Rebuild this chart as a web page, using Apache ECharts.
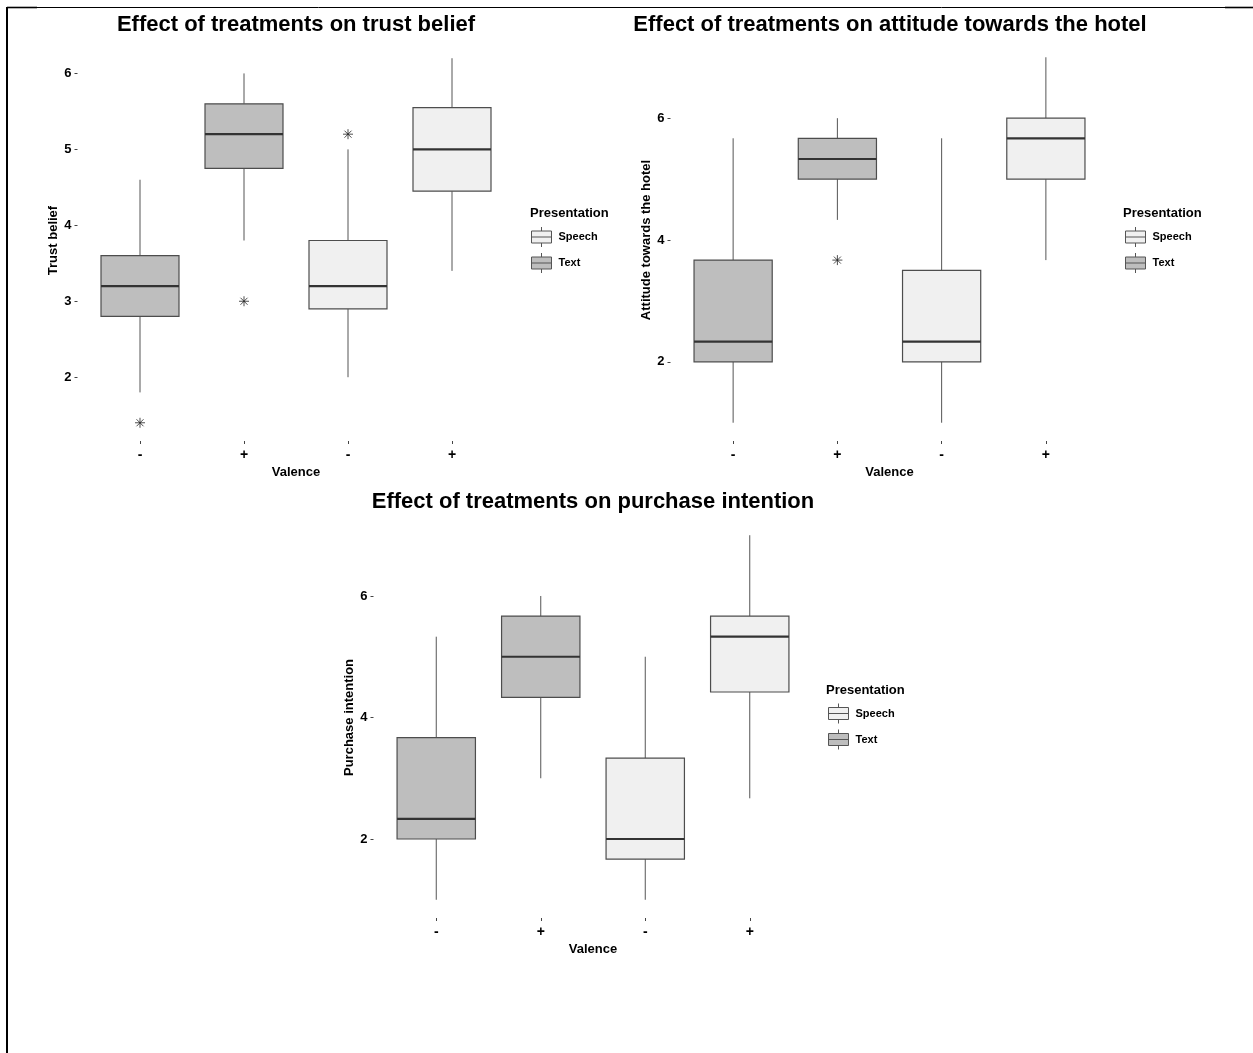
<!DOCTYPE html>
<html><head><meta charset="utf-8">
<script src="https://cdn.jsdelivr.net/npm/echarts@6/dist/echarts.min.js"></script>
<style>html,body{margin:0;padding:0;background:#fff}#c{width:1253px;height:1053px}</style>
</head><body><div id="c"></div>
<script>
// ---- data ----
const valence = ['-', '+', '-', '+'];
const presentation = ['Text', 'Text', 'Speech', 'Speech'];
const legendNames = ['Speech', 'Text'];
// each box: [lower whisker, Q1, median, Q3, upper whisker]
const trustBox = [[1.8, 2.8, 3.2, 3.6, 4.6], [3.8, 4.75, 5.2, 5.6, 6.0], [2.0, 2.9, 3.2, 3.8, 5.0], [3.4, 4.45, 5.0, 5.55, 6.2]];
const trustOutliers = [[0, 1.4], [1, 3.0], [2, 5.2]];
const attitudeBox = [[1.0, 2.0, 2.33, 3.67, 5.67], [4.33, 5.0, 5.33, 5.67, 6.0], [1.0, 2.0, 2.33, 3.5, 5.67], [3.67, 5.0, 5.67, 6.0, 7.0]];
const attitudeOutliers = [[1, 3.67]];
const purchaseBox = [[1.0, 2.0, 2.33, 3.67, 5.33], [3.0, 4.33, 5.0, 5.67, 6.0], [1.0, 1.67, 2.0, 3.33, 5.0], [2.67, 4.42, 5.33, 5.67, 7.0]];
const purchaseOutliers = [];
const trustTicks = [2, 3, 4, 5, 6];
const attitudeTicks = [2, 4, 6];
const purchaseTicks = [2, 4, 6];
const titles = ['Effect of treatments on trust belief', 'Effect of treatments on attitude towards the hotel', 'Effect of treatments on purchase intention'];
const yNames = ['Trust belief', 'Attitude towards the hotel', 'Purchase intention'];
const xName = 'Valence';
const legendTitle = 'Presentation';

// ---- styling ----
const FONT = '"Liberation Sans", Arial, sans-serif';
const fills = { Text: '#bebebe', Speech: '#f0f0f0' };

function renderBox(params, api) {
  const x = api.value(0);
  const lo = api.coord([x, api.value(1)]);
  const q1 = api.coord([x, api.value(2)]);
  const md = api.coord([x, api.value(3)]);
  const q3 = api.coord([x, api.value(4)]);
  const hi = api.coord([x, api.value(5)]);
  const bw = api.size([1, 0])[0] * 0.75;
  const cx = lo[0];
  const l = cx - bw / 2;
  const fill = api.visual('color');
  return {
    type: 'group',
    children: [
      { type: 'line', shape: { x1: cx, y1: hi[1], x2: cx, y2: q3[1] }, style: { stroke: '#555', lineWidth: 1 } },
      { type: 'line', shape: { x1: cx, y1: q1[1], x2: cx, y2: lo[1] }, style: { stroke: '#555', lineWidth: 1 } },
      { type: 'rect', shape: { x: l, y: q3[1], width: bw, height: q1[1] - q3[1] }, style: { fill: fill, stroke: '#4d4d4d', lineWidth: 1.2 } },
      { type: 'line', shape: { x1: l, y1: md[1], x2: l + bw, y2: md[1] }, style: { stroke: '#333', lineWidth: 2.2 } }
    ]
  };
}

const grids = [
  { left: 88, top: 40, width: 416, height: 401 },
  { left: 681, top: 39, width: 417, height: 402 },
  { left: 384, top: 517, width: 418, height: 401 }
];
const yRanges = [[1.16, 6.44], [0.7, 7.3], [0.7, 7.3]];
const yTickSets = [trustTicks, attitudeTicks, purchaseTicks];
const boxes = [trustBox, attitudeBox, purchaseBox];
const outliers = [trustOutliers, attitudeOutliers, purchaseOutliers];
const legendPos = [[531, 226.5], [1125, 226.5], [828, 703]];
const legendTitlePos = [[530, 213], [1123, 213], [826, 690]];
const titlePos = [[296, 25], [890, 25], [593, 501.5]];

const xAxes = [], yAxes = [], series = [], legends = [], graphics = [];
const iconPath = 'path://M10 0 L10 4 M0 4 L20 4 L20 16 L0 16 Z M0 10 L20 10 M10 16 L10 20';
const asterisk = 'path://M5 0 L5 10 M0 5 L10 5 M1.5 1.5 L8.5 8.5 M1.5 8.5 L8.5 1.5';

for (let g = 0; g < 3; g++) {
  xAxes.push({
    type: 'category', gridIndex: g, data: valence, boundaryGap: true,
    axisLine: { show: false },
    axisTick: { show: true, alignWithLabel: true, length: 3, lineStyle: { color: '#444' } },
    axisLabel: { margin: 7, color: '#000', fontWeight: 'bold', fontSize: 14, fontFamily: FONT },
    splitLine: { show: false },
    name: xName, nameLocation: 'middle', nameGap: 25,
    nameTextStyle: { color: '#000', fontWeight: 'bold', fontSize: 13, fontFamily: FONT }
  });
  yAxes.push({
    type: 'value', gridIndex: g, min: yRanges[g][0], max: yRanges[g][1], offset: 10.5,
    axisLine: { show: false },
    axisTick: { show: true, length: 3, customValues: yTickSets[g], lineStyle: { color: '#444' } },
    axisLabel: { margin: 6, padding: [4, 0, 0, 0], customValues: yTickSets[g], color: '#000', fontWeight: 'bold', fontSize: 13, fontFamily: FONT },
    splitLine: { show: false },
    name: yNames[g], nameLocation: 'middle', nameGap: 17, nameRotate: 90,
    nameTextStyle: { color: '#000', fontWeight: 'bold', fontSize: 13, fontFamily: FONT }
  });
  ['Text', 'Speech'].forEach(function (p) {
    const data = [];
    boxes[g].forEach(function (b, i) { if (presentation[i] === p) data.push([i].concat(b)); });
    series.push({
      type: 'custom', name: p, xAxisIndex: g, yAxisIndex: g,
      itemStyle: { color: fills[p], borderColor: '#4d4d4d' },
      encode: { x: 0, y: [1, 2, 3, 4, 5] },
      renderItem: renderBox, data: data
    });
  });
  series.push({
    type: 'scatter', name: 'outliers' + g, xAxisIndex: g, yAxisIndex: g,
    symbol: asterisk, symbolSize: 10, silent: true, z: 5,
    itemStyle: { color: 'transparent', borderColor: '#222', borderWidth: 1 },
    data: outliers[g]
  });
  legends.push({
    orient: 'vertical', left: legendPos[g][0], top: legendPos[g][1], padding: 0,
    itemWidth: 20, itemHeight: 20, itemGap: 5, selectedMode: false,
    textStyle: { color: '#000', fontWeight: 'bold', fontSize: 11, fontFamily: FONT, padding: [0, 0, 0, 2] },
    data: legendNames.map(function (n) {
      return { name: n, icon: iconPath, itemStyle: { color: fills[n], borderColor: '#555', borderWidth: 1 } };
    })
  });
  graphics.push({
    type: 'text', x: titlePos[g][0], y: titlePos[g][1],
    style: { text: titles[g], font: 'bold 22px ' + FONT, fill: '#000', align: 'center', verticalAlign: 'middle', textAlign: 'center', textVerticalAlign: 'middle' }
  });
  graphics.push({
    type: 'text', x: legendTitlePos[g][0], y: legendTitlePos[g][1],
    style: { text: legendTitle, font: 'bold 13px ' + FONT, fill: '#000', align: 'left', verticalAlign: 'middle', textAlign: 'left', textVerticalAlign: 'middle' }
  });
}
// page frame
graphics.push({ type: 'line', shape: { x1: 7, y1: 7, x2: 7, y2: 1053 }, style: { stroke: '#000', lineWidth: 2 } });
graphics.push({ type: 'line', shape: { x1: 7, y1: 7.5, x2: 1253, y2: 7.5 }, style: { stroke: '#000', lineWidth: 1 } });
graphics.push({ type: 'line', shape: { x1: 7, y1: 7.5, x2: 37, y2: 7.5 }, style: { stroke: '#000', lineWidth: 1.6 } });
graphics.push({ type: 'line', shape: { x1: 1225, y1: 7.5, x2: 1253, y2: 7.5 }, style: { stroke: '#000', lineWidth: 1.6 } });

const chart = echarts.init(document.getElementById('c'), null, { renderer: 'canvas' });
chart.setOption({
  animation: false,
  backgroundColor: '#fff',
  textStyle: { fontFamily: FONT },
  grid: grids,
  xAxis: xAxes,
  yAxis: yAxes,
  legend: legends,
  series: series,
  graphic: graphics
});
</script></body></html>
